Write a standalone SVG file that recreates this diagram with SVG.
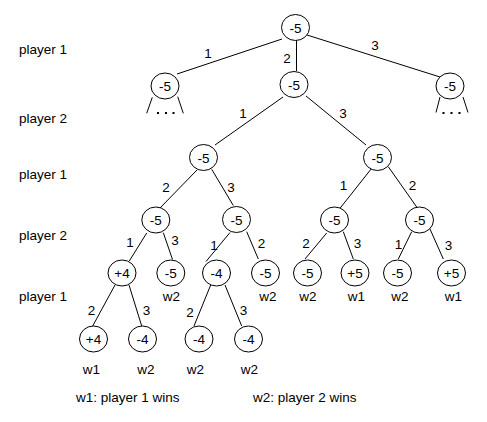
<svg xmlns="http://www.w3.org/2000/svg" width="487" height="422" viewBox="0 0 487 422">
<style>
text{font-family:"Liberation Sans",Arial,sans-serif;font-size:13.5px;fill:#000}
.c{text-anchor:middle}
.n ellipse{fill:#fff;stroke:#000;stroke-width:1}
#edges line{stroke:#000;stroke-width:1}
.dot{fill:#000}
</style>
<rect width="487" height="422" fill="#fff"/>
<g id="levels">
<text x="19" y="53.5">player 1</text>
<text x="19" y="123">player 2</text>
<text x="19" y="179">player 1</text>
<text x="19" y="240">player 2</text>
<text x="19" y="301">player 1</text>
</g>
<g id="edges">
<line x1="282" y1="39" x2="177" y2="74"/>
<line x1="296.5" y1="40" x2="296.5" y2="71"/>
<line x1="307" y1="35" x2="440" y2="77"/>
<line x1="152.3" y1="97.3" x2="146.7" y2="113.3"/>
<line x1="177.7" y1="96.7" x2="183.3" y2="113.3"/>
<line x1="440" y1="97" x2="436" y2="112.5"/>
<line x1="463" y1="97" x2="468" y2="112.5"/>
<line x1="283" y1="97" x2="215" y2="145"/>
<line x1="306" y1="96" x2="366" y2="145"/>
<line x1="197" y1="170" x2="160" y2="208"/>
<line x1="211.7" y1="169.3" x2="233.3" y2="205.5"/>
<line x1="371.7" y1="168.3" x2="340" y2="208.3"/>
<line x1="388.3" y1="166.7" x2="416.7" y2="207"/>
<line x1="146.7" y1="233" x2="129.3" y2="261"/>
<line x1="163.3" y1="232.7" x2="172.5" y2="259.5"/>
<line x1="230" y1="232.5" x2="206" y2="261.5"/>
<line x1="246.7" y1="231.7" x2="258.3" y2="259"/>
<line x1="326.7" y1="233" x2="305" y2="259"/>
<line x1="343.3" y1="231.7" x2="353.3" y2="259"/>
<line x1="411.7" y1="231.7" x2="398.3" y2="259"/>
<line x1="430" y1="229" x2="443.3" y2="259"/>
<line x1="115" y1="285" x2="92.7" y2="326"/>
<line x1="129" y1="285" x2="141.7" y2="326"/>
<line x1="210.7" y1="285" x2="194" y2="326"/>
<line x1="225" y1="285" x2="241.7" y2="326"/>
<rect class="dot" x="157" y="112" width="2" height="2"/>
<rect class="dot" x="165" y="112" width="2" height="2"/>
<rect class="dot" x="172.5" y="112" width="2" height="2"/>
<rect class="dot" x="442.5" y="112" width="2" height="2"/>
<rect class="dot" x="450.5" y="112" width="2" height="2"/>
<rect class="dot" x="458.5" y="112" width="2" height="2"/>
<text class="c" x="208" y="58">1</text>
<text class="c" x="287" y="63">2</text>
<text class="c" x="375" y="50">3</text>
<text class="c" x="243" y="118">1</text>
<text class="c" x="343" y="118">3</text>
<text class="c" x="166" y="192">2</text>
<text class="c" x="231" y="192">3</text>
<text class="c" x="343.5" y="190">1</text>
<text class="c" x="412.5" y="190">2</text>
<text class="c" x="130" y="247">1</text>
<text class="c" x="175" y="245">3</text>
<text class="c" x="214" y="250">1</text>
<text class="c" x="261.5" y="248">2</text>
<text class="c" x="306" y="248">2</text>
<text class="c" x="357.5" y="248">3</text>
<text class="c" x="398.5" y="249">1</text>
<text class="c" x="448.5" y="250">3</text>
<text class="c" x="91.5" y="315">2</text>
<text class="c" x="146.5" y="315">3</text>
<text class="c" x="190" y="317">2</text>
<text class="c" x="243.5" y="315">3</text>
</g>
<g id="n-root" class="n"><ellipse cx="295.5" cy="27.5" rx="14" ry="13"/><text class="c" x="295.5" y="32.5">-5</text></g>
<g id="n-b1" class="n"><ellipse cx="165" cy="86" rx="14" ry="13"/><text class="c" x="165" y="91">-5</text></g>
<g id="n-b2" class="n"><ellipse cx="294" cy="84.5" rx="14" ry="13"/><text class="c" x="294" y="89.5">-5</text></g>
<g id="n-b3" class="n"><ellipse cx="450" cy="86" rx="14" ry="13"/><text class="c" x="450" y="91">-5</text></g>
<g id="n-c1" class="n"><ellipse cx="203.5" cy="157.5" rx="14" ry="13"/><text class="c" x="203.5" y="162.5">-5</text></g>
<g id="n-c2" class="n"><ellipse cx="377.5" cy="157.5" rx="14" ry="13"/><text class="c" x="377.5" y="162.5">-5</text></g>
<g id="n-d1" class="n"><ellipse cx="155.8" cy="220" rx="14" ry="13"/><text class="c" x="155.8" y="225">-5</text></g>
<g id="n-d2" class="n"><ellipse cx="236.5" cy="219.5" rx="14" ry="13"/><text class="c" x="236.5" y="224.5">-5</text></g>
<g id="n-d3" class="n"><ellipse cx="334.5" cy="220" rx="14" ry="13"/><text class="c" x="334.5" y="225">-5</text></g>
<g id="n-d4" class="n"><ellipse cx="419.5" cy="220" rx="14" ry="13"/><text class="c" x="419.5" y="225">-5</text></g>
<g id="n-e1" class="n"><ellipse cx="122" cy="273" rx="14" ry="13"/><text class="c" x="122" y="278">+4</text></g>
<g id="n-e2" class="n"><ellipse cx="170.8" cy="273" rx="14" ry="13"/><text class="c" x="170.8" y="278">-5</text><text class="c" x="171.5" y="301">w2</text></g>
<g id="n-e3" class="n"><ellipse cx="216.5" cy="273" rx="14" ry="13"/><text class="c" x="216.5" y="278">-4</text></g>
<g id="n-e4" class="n"><ellipse cx="265.5" cy="273" rx="14" ry="13"/><text class="c" x="265.5" y="278">-5</text><text class="c" x="268" y="301">w2</text></g>
<g id="n-e5" class="n"><ellipse cx="307.5" cy="273" rx="14" ry="13"/><text class="c" x="307.5" y="278">-5</text><text class="c" x="308" y="301">w2</text></g>
<g id="n-e6" class="n"><ellipse cx="355" cy="273" rx="14" ry="13"/><text class="c" x="355" y="278">+5</text><text class="c" x="356.5" y="301">w1</text></g>
<g id="n-e7" class="n"><ellipse cx="397.5" cy="273" rx="14" ry="13"/><text class="c" x="397.5" y="278">-5</text><text class="c" x="400" y="301">w2</text></g>
<g id="n-e8" class="n"><ellipse cx="451.5" cy="273" rx="14" ry="13"/><text class="c" x="451.5" y="278">+5</text><text class="c" x="453.5" y="301">w1</text></g>
<g id="n-f1" class="n"><ellipse cx="93.5" cy="339" rx="14" ry="13"/><text class="c" x="93.5" y="344">+4</text><text class="c" x="91.5" y="374">w1</text></g>
<g id="n-f2" class="n"><ellipse cx="142.5" cy="339" rx="14" ry="13"/><text class="c" x="142.5" y="344">-4</text><text class="c" x="146" y="374">w2</text></g>
<g id="n-f3" class="n"><ellipse cx="199" cy="339" rx="14" ry="13"/><text class="c" x="199" y="344">-4</text><text class="c" x="195.5" y="374">w2</text></g>
<g id="n-f4" class="n"><ellipse cx="248.5" cy="339" rx="14" ry="13"/><text class="c" x="248.5" y="344">-4</text><text class="c" x="249.5" y="374">w2</text></g>
<g id="legend">
<text x="76" y="401.5">w1: player 1 wins</text>
<text x="253" y="401.5">w2: player 2 wins</text>
</g>
</svg>
